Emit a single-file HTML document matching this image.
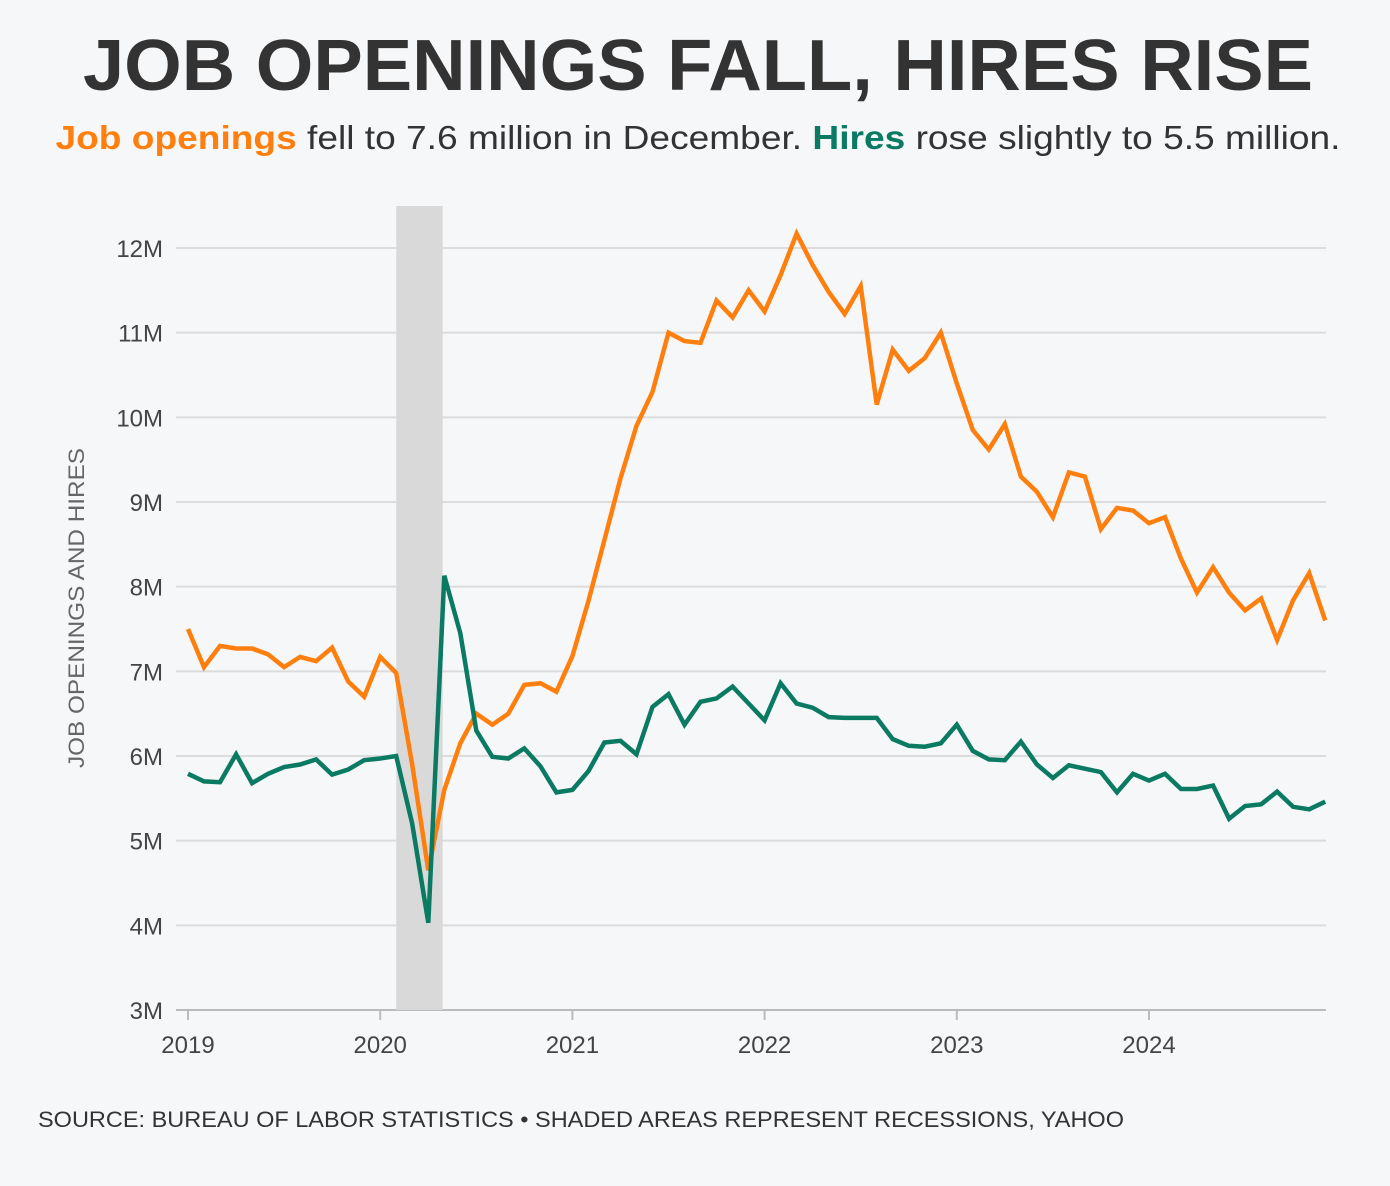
<!DOCTYPE html>
<html><head><meta charset="utf-8"><style>
body{margin:0;background:#f6f7f9;}
svg{display:block;font-family:"Liberation Sans",sans-serif;}
</style></head><body>
<svg id="c" width="1390" height="1186" viewBox="0 0 1390 1186">
<rect width="1390" height="1186" fill="#f6f7f9"/>
<text x="698" y="90" text-anchor="middle" font-size="72" font-weight="bold" fill="#333" textLength="1230" lengthAdjust="spacingAndGlyphs">JOB OPENINGS FALL, HIRES RISE</text>
<text x="698" y="149" text-anchor="middle" font-size="33" fill="#333" textLength="1285" lengthAdjust="spacingAndGlyphs"><tspan fill="#ff7f0e" font-weight="bold">Job openings</tspan> fell to 7.6 million in December. <tspan fill="#0b7a62" font-weight="bold">Hires</tspan> rose slightly to 5.5 million.</text>
<g id="grid"></g>
<rect id="rec" fill="#d9d9d9"/>
<g id="series"></g>
<g id="xt"></g>
<text transform="translate(84,608) rotate(-90)" text-anchor="middle" font-size="22" fill="#666" textLength="320" lengthAdjust="spacingAndGlyphs">JOB OPENINGS AND HIRES</text>
<text x="38" y="1127" font-size="22" fill="#333" textLength="1086" lengthAdjust="spacingAndGlyphs">SOURCE: BUREAU OF LABOR STATISTICS • SHADED AREAS REPRESENT RECESSIONS, YAHOO</text>
</svg>
<script>
const yTicks=[3,4,5,6,7,8,9,10,11,12];
const yLabels=["3M","4M","5M","6M","7M","8M","9M","10M","11M","12M"];
const xYears=[2019,2020,2021,2022,2023,2024];
const openings=[7.5,7.05,7.3,7.27,7.27,7.2,7.05,7.17,7.12,7.28,6.88,6.7,
7.17,6.98,5.9,4.65,5.6,6.15,6.5,6.37,6.5,6.84,6.86,6.76,
7.18,7.83,8.55,9.28,9.9,10.3,11.0,10.9,10.88,11.38,11.18,11.5,
11.25,11.68,12.17,11.8,11.48,11.22,11.55,10.15,10.8,10.55,10.7,11.0,
10.4,9.85,9.62,9.92,9.3,9.12,8.82,9.35,9.3,8.68,8.93,8.9,
8.75,8.82,8.33,7.93,8.23,7.93,7.72,7.86,7.37,7.84,8.16,7.6];
const hires=[5.79,5.7,5.69,6.02,5.68,5.79,5.87,5.9,5.96,5.78,5.84,5.95,
5.97,6.0,5.2,4.03,8.13,7.45,6.3,5.99,5.97,6.09,5.88,5.57,
5.6,5.82,6.16,6.18,6.02,6.58,6.73,6.37,6.64,6.68,6.82,6.62,
6.42,6.86,6.62,6.57,6.46,6.45,6.45,6.45,6.2,6.12,6.11,6.15,
6.37,6.06,5.96,5.95,6.17,5.9,5.74,5.89,5.85,5.81,5.57,5.79,
5.71,5.79,5.61,5.61,5.65,5.26,5.41,5.43,5.58,5.4,5.37,5.46];
const recession=[13,15.9];
const NS="http://www.w3.org/2000/svg";
const x=m=>188+m*(961/60);
const y=v=>1010-(v-3)*(762/9);
function mk(t,a,p){const e=document.createElementNS(NS,t);for(const k in a)e.setAttribute(k,a[k]);p.appendChild(e);return e;}
const grid=document.getElementById('grid');
yTicks.forEach((v,i)=>{
 const l=mk('line',{x1:176,x2:1326,y1:y(v),y2:y(v),stroke:i==0?'#bbb':'#dcdcdc','stroke-width':2},grid);
 
 
 const t=mk('text',{x:163,y:y(v)+9,'text-anchor':'end','font-size':24,fill:'#444'},grid);
 t.textContent=yLabels[i];
 
 
});
const rec=document.getElementById('rec');
rec.setAttribute('x',x(recession[0]));rec.setAttribute('width',x(recession[1])-x(recession[0]));
rec.setAttribute('y',206);rec.setAttribute('height',1010-206);
const xt=document.getElementById('xt');
xYears.forEach((yr,i)=>{
 const l=mk('line',{x1:x(i*12),x2:x(i*12),y1:1010,y2:1020,stroke:'#bbb','stroke-width':2},xt);
 
 
 const t=mk('text',{x:x(i*12),y:1053,'text-anchor':'middle','font-size':24,fill:'#444'},xt);
 t.textContent=yr;
 
 
});
const s=document.getElementById('series');
function line(d,c,n){const p=mk('path',{d:d.map((v,i)=>(i?'L':'M')+x(i).toFixed(1)+','+y(v).toFixed(1)).join(''),fill:'none',stroke:c,'stroke-width':4.5,'stroke-linejoin':'miter'},s);
 
 }
line(openings,'#ff7f0e','job-openings-line');
line(hires,'#0b7a62','hires-line');
</script>
</body></html>
